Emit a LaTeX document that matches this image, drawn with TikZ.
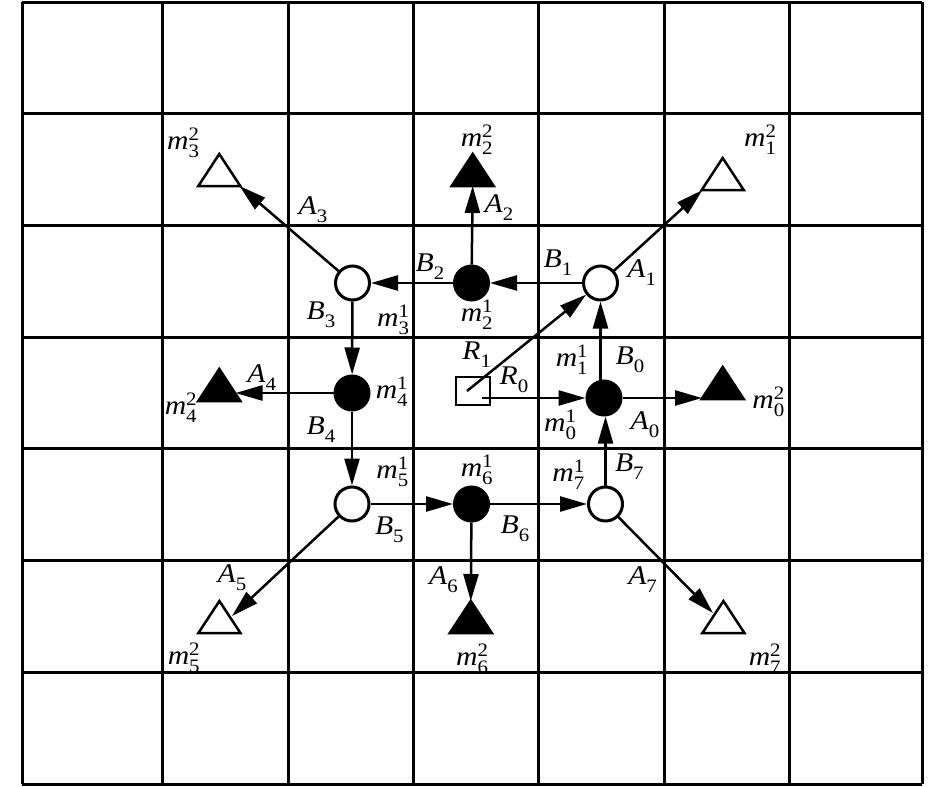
\documentclass[tikz,border=0pt]{standalone}
\usepackage{fontspec}
\setmainfont{Liberation Serif}
\usepackage{graphicx}
\usetikzlibrary{arrows.meta}
\newcommand{\Ls}[2]{\scalebox{1.1}[1]{\fontsize{27pt}{27pt}\selectfont\itshape #1\upshape\fontsize{19pt}{19pt}\selectfont\raisebox{-8pt}{#2}}}
\newcommand{\Lm}[3]{\scalebox{1.1}[1]{\fontsize{27pt}{27pt}\selectfont\itshape #1\upshape\fontsize{19pt}{19pt}\selectfont\makebox[0pt][l]{\raisebox{9pt}{#2}}\raisebox{-8pt}{#3}}}
\begin{document}
\begin{tikzpicture}[x=1pt,y=-1pt,
  gridline/.style={line width=3pt},
  ocirc/.style={circle,draw,line width=3pt,fill=white,minimum size=34pt,inner sep=0pt},
  fcirc/.style={circle,draw,line width=3pt,fill=black,minimum size=34pt,inner sep=0pt},
  rbox/.style={draw,line width=2.5pt,minimum width=34pt,minimum height=28pt,inner sep=0pt},
  otri/.style={draw,line width=2.5pt,fill=white},
  ftri/.style={draw,line width=2.5pt,fill=black},
  arr/.style={line width=2.5pt,-{Triangle[length=27pt,width=15pt]}},
  lab/.style={inner sep=0pt,anchor=center}]
\useasboundingbox (0,0) rectangle (945,787);
% grid
\foreach \x in {22,162,288,413,538,664,789,922} \draw[gridline] (\x,2) -- (\x,784);
\foreach \y in {2,113.7,225.4,337,448.8,560.5,672.2,784} \draw[gridline] (22,\y) -- (922,\y);
% triangles
\draw[otri] (701.7,190) -- ++(42,0) -- ++(-21,-32) -- cycle;
\draw[ftri] (451.7,186) -- ++(42,0) -- ++(-21,-32) -- cycle;
\draw[otri] (198.3,186) -- ++(42,0) -- ++(-21,-32) -- cycle;
\draw[ftri] (198.3,401) -- ++(42,0) -- ++(-21,-32) -- cycle;
\draw[ftri] (701.7,399) -- ++(42,0) -- ++(-21,-32) -- cycle;
\draw[otri] (198.4,633) -- ++(42,0) -- ++(-21,-32) -- cycle;
\draw[ftri] (449.8,633) -- ++(42,0) -- ++(-21,-32) -- cycle;
\draw[otri] (702.4,633) -- ++(42,0) -- ++(-21,-32) -- cycle;
\coordinate (c0) at (702,398);
\coordinate (c1) at (702.5,190);
\coordinate (c2) at (472.7,186);
\coordinate (c3) at (239.5,186);
\coordinate (c4) at (235.5,393);
\coordinate (c5) at (232,616);
\coordinate (c6) at (470.8,601);
\coordinate (c7) at (713,613);
% nodes
\node[fcirc] (m0) at (604,398) {};
\node[ocirc] (m1) at (600.5,283) {};
\node[fcirc] (m2) at (471.5,283) {};
\node[ocirc] (m3) at (352.5,283) {};
\node[fcirc] (m4) at (352,393) {};
\node[ocirc] (m5) at (352,504) {};
\node[fcirc] (m6) at (471.5,504) {};
\node[ocirc] (m7) at (605.5,504) {};
\node[rbox] (R) at (473,391) {};
\coordinate (r1s) at (467,391);
\coordinate (r0s) at (482,398);
% connectors
\draw[arr] (m0.north -| m1) -- (m1);
\draw[arr] (m1) -- (m2);
\draw[arr] (m2) -- (m3);
\draw[arr] (m3) -- (m4);
\draw[arr] (m4) -- (m5);
\draw[arr] (m5) -- (m6);
\draw[arr] (m6) -- (m7);
\draw[arr] (m7) -- (m7 |- m0.south);
\draw[arr] (r0s) -- (m0);
\draw[arr] (r1s) -- (m1);
\draw[arr] (m0) -- (c0);
\draw[arr] (m1) -- (c1);
\draw[arr] (m2) -- (c2);
\draw[arr] (m3) -- (c3);
\draw[arr] (m4) -- (c4);
\draw[arr] (m5) -- (c5);
\draw[arr] (m6) -- (c6);
\draw[arr] (m7) -- (c7);
% labels
\node[lab] (l1) at (760,140) {\Lm{m}{2}{1}};
\node[lab] (l2) at (476.7,140) {\Lm{m}{2}{2}};
\node[lab] (l3) at (183,143) {\Lm{m}{2}{3}};
\node[lab] (l4) at (313,210) {\Ls{A}{3}};
\node[lab] (l5) at (499,208) {\Ls{A}{2}};
\node[lab] (l6) at (430,267) {\Ls{B}{2}};
\node[lab] (l7) at (558,263) {\Ls{B}{1}};
\node[lab] (l8) at (641.7,272.7) {\Ls{A}{1}};
\node[lab] (l9) at (321,315) {\Ls{B}{3}};
\node[lab] (l10) at (393,320) {\Lm{m}{1}{3}};
\node[lab] (l11) at (476.7,315) {\Lm{m}{1}{2}};
\node[lab] (l12) at (476.7,355) {\Ls{R}{1}};
\node[lab] (l13) at (571.7,360) {\Lm{m}{1}{1}};
\node[lab] (l14) at (630,360) {\Ls{B}{0}};
\node[lab] (l15) at (261.7,378) {\Ls{A}{4}};
\node[lab] (l16) at (391.7,391.7) {\Lm{m}{1}{4}};
\node[lab] (l17) at (180.7,408) {\Lm{m}{2}{4}};
\node[lab] (l18) at (514,380) {\Ls{R}{0}};
\node[lab] (l19) at (768.3,401.7) {\Lm{m}{2}{0}};
\node[lab] (l20) at (560,425) {\Lm{m}{1}{0}};
\node[lab] (l21) at (645,425) {\Ls{A}{0}};
\node[lab] (l22) at (321,430) {\Ls{B}{4}};
\node[lab] (l23) at (392.3,471.7) {\Lm{m}{1}{5}};
\node[lab] (l24) at (476.7,470) {\Lm{m}{1}{6}};
\node[lab] (l25) at (568.3,475) {\Lm{m}{1}{7}};
\node[lab] (l26) at (629.3,466.7) {\Ls{B}{7}};
\node[lab] (l27) at (389.3,530) {\Ls{B}{5}};
\node[lab] (l28) at (515,528.3) {\Ls{B}{6}};
\node[lab] (l29) at (232,578) {\Ls{A}{5}};
\node[lab] (l30) at (443.5,580) {\Ls{A}{6}};
\node[lab] (l31) at (642.6,580) {\Ls{A}{7}};
\node[lab] (l32) at (183.7,658) {\Lm{m}{2}{5}};
\node[lab] (l33) at (472,659) {\Lm{m}{2}{6}};
\node[lab] (l34) at (764.7,659) {\Lm{m}{2}{7}};
\end{tikzpicture}
\end{document}
